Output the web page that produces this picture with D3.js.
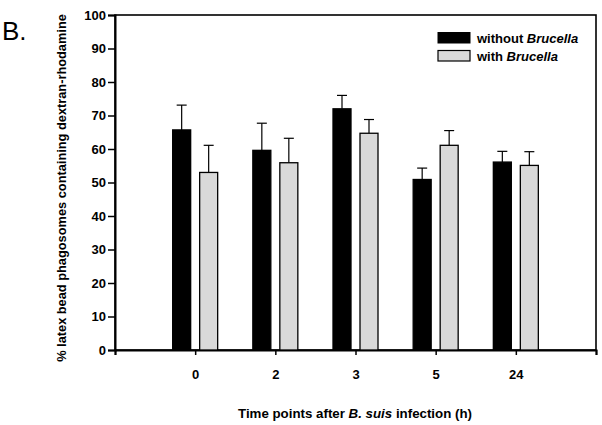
<!DOCTYPE html>
<html><head><meta charset="utf-8">
<script src="https://cdn.jsdelivr.net/npm/d3@7"></script>
<style>body{margin:0;background:#fff}svg{display:block;font-family:"Liberation Sans",Arial,sans-serif}</style>
</head><body><svg id="c" width="602" height="425"></svg>
<script>
const categories = ["0","2","3","5","24"];
const withoutVals = [65.7, 59.6, 72.0, 50.9, 56.1];
const withoutErr  = [7.4, 8.1, 4.0, 3.4, 3.2];
const withVals    = [53.0, 55.9, 64.7, 61.1, 55.1];
const withErr     = [8.1, 7.3, 4.1, 4.4, 4.1];
const yTicks = [0,10,20,30,40,50,60,70,80,90,100];

const svg = d3.select("#c");
const L=115, R=596, T=15, B=350;
const x = d3.scaleLinear().domain([0,categories.length+1]).range([L,R]);
const y = d3.scaleLinear().domain([0,100]).range([B,T]);
const barW = 18, off = 13.5;
const bold = "bold";
const FS = 13;

// frame
svg.append("rect").attr("x",L).attr("y",T).attr("width",R-L).attr("height",B-T)
  .attr("fill","none").attr("stroke","#000").attr("stroke-width",1.6);

// y axis
const ya = svg.append("g").attr("transform",`translate(${L},0)`)
  .call(d3.axisLeft(y).tickValues(yTicks).tickSize(7).tickPadding(2));
ya.select(".domain").attr("stroke-width",2);
ya.selectAll("line").attr("stroke-width",1.5);
ya.selectAll("text").attr("font-size",FS).attr("font-weight",bold).attr("font-family","Liberation Sans, Arial, sans-serif").attr("fill","#000");

// x axis
const xa = svg.append("g").attr("transform",`translate(0,${B})`)
  .call(d3.axisBottom(x).tickValues(d3.range(0,categories.length+2)).tickSize(5).tickPadding(15)
    .tickFormat(d => (d>=1 && d<=categories.length) ? categories[d-1] : ""));
xa.select(".domain").attr("stroke-width",2);
xa.selectAll("line").attr("stroke-width",1.5);
xa.selectAll("text").attr("font-size",FS).attr("font-weight",bold).attr("font-family","Liberation Sans, Arial, sans-serif").attr("fill","#000");

function drawSeries(vals, errs, dx, fill, stroke){
  const g = svg.append("g");
  vals.forEach((v,i)=>{
    const cx = x(i+1)+dx;
    g.append("line").attr("x1",cx).attr("x2",cx).attr("y1",y(v)).attr("y2",y(v+errs[i])).attr("stroke","#000").attr("stroke-width",1.2);
    g.append("line").attr("x1",cx-5).attr("x2",cx+5).attr("y1",y(v+errs[i])).attr("y2",y(v+errs[i])).attr("stroke","#000").attr("stroke-width",1.2);
    g.append("rect").attr("x",cx-barW/2).attr("y",y(v)).attr("width",barW).attr("height",y(0)-y(v))
      .attr("fill",fill).attr("stroke",stroke).attr("stroke-width",1.3);
  });
}
drawSeries(withoutVals, withoutErr, -off, "#000", "#000");
drawSeries(withVals, withErr, off, "#d9d9d9", "#000");

// legend
const lg = svg.append("g").attr("font-size",FS).attr("font-weight",bold);
lg.append("rect").attr("x",438).attr("y",32.5).attr("width",32).attr("height",10.5).attr("fill","#000").attr("stroke","#000");
lg.append("rect").attr("x",438).attr("y",50.5).attr("width",32).attr("height",10.5).attr("fill","#d9d9d9").attr("stroke","#000").attr("stroke-width",1.2);
const t1 = lg.append("text").attr("x",477).attr("y",43);
t1.append("tspan").text("without ");
t1.append("tspan").attr("font-style","italic").text("Brucella");
const t2 = lg.append("text").attr("x",477).attr("y",61);
t2.append("tspan").text("with ");
t2.append("tspan").attr("font-style","italic").text("Brucella");

// axis titles
svg.append("text").attr("transform","translate(66,188) rotate(-90)").attr("text-anchor","middle")
  .attr("font-size",12.8).attr("font-weight",bold).text("% latex bead phagosomes containing dextran-rhodamine");
const xt = svg.append("text").attr("x",355).attr("y",418).attr("text-anchor","middle").attr("font-size",13.3).attr("font-weight",bold);
xt.append("tspan").text("Time points after ");
xt.append("tspan").attr("font-style","italic").text("B. suis");
xt.append("tspan").text(" infection (h)");

// panel letter
svg.append("text").attr("x",2).attr("y",40).attr("font-size",26).text("B.");
</script></body></html>
